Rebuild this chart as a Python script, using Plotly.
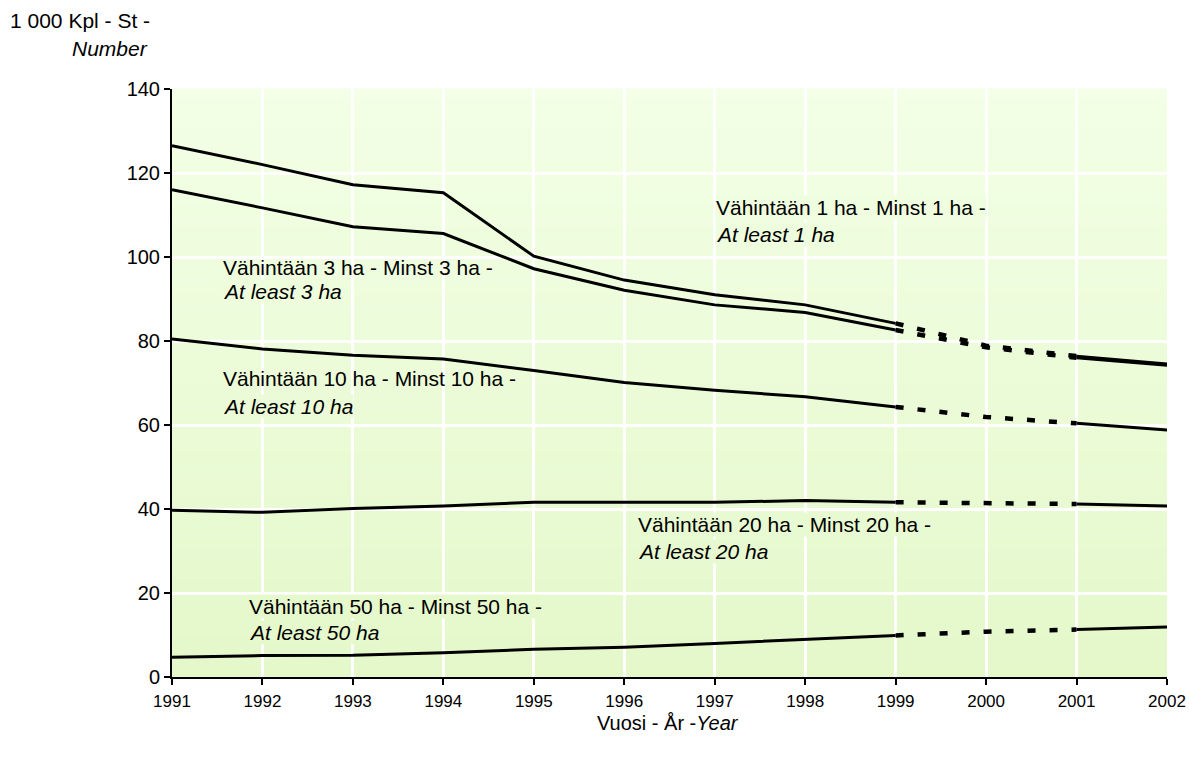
import plotly.graph_objects as go

years = [1991, 1992, 1993, 1994, 1995, 1996, 1997, 1998, 1999, 2000, 2001, 2002]
ha1 = [126.5, 122.0, 117.2, 115.3, 100.2, 94.5, 91.0, 88.6, 84.2, 78.9, 76.4, 74.5]
ha3 = [116.0, 111.7, 107.2, 105.6, 97.2, 92.1, 88.6, 86.8, 82.6, 78.5, 76.0, 74.2]
ha10 = [80.5, 78.1, 76.6, 75.7, 73.0, 70.1, 68.3, 66.7, 64.3, 61.9, 60.4, 58.8]
ha20 = [39.7, 39.2, 40.1, 40.7, 41.6, 41.6, 41.6, 42.0, 41.6, 41.3, 41.2, 40.7]
ha50 = [4.7, 5.1, 5.2, 5.8, 6.6, 7.1, 8.0, 9.0, 9.9, 10.8, 11.3, 11.9]
series = [ha1, ha3, ha10, ha20, ha50]

labels = [
    ("Vähintään 1 ha - Minst 1 ha -", "At least 1 ha", 1997.0, 111.8, 105.4, True),
    ("Vähintään 3 ha - Minst 3 ha -", "At least 3 ha", 1991.55, 97.4, 91.7, False),
    ("Vähintään 10 ha - Minst 10 ha -", "At least 10 ha", 1991.55, 71.1, 64.5, False),
    ("Vähintään 20 ha - Minst 20 ha -", "At least 20 ha", 1996.14, 36.3, 29.9, True),
    ("Vähintään 50 ha - Minst 50 ha -", "At least 50 ha", 1991.84, 16.9, 10.7, True),
]

FONT = "Liberation Sans, Arial, sans-serif"
fig = go.Figure()

i_1999 = years.index(1999)
i_2001 = years.index(2001)
for s in series:
    fig.add_trace(go.Scatter(x=years[:i_1999 + 1], y=s[:i_1999 + 1], mode="lines",
                             line=dict(color="black", width=3), showlegend=False, hoverinfo="skip"))
    fig.add_trace(go.Scatter(x=years[i_1999:i_2001 + 1], y=s[i_1999:i_2001 + 1], mode="lines",
                             line=dict(color="black", width=4.5, dash="8px,14px"), showlegend=False,
                             hoverinfo="skip"))
    fig.add_trace(go.Scatter(x=years[i_2001:], y=s[i_2001:], mode="lines",
                             line=dict(color="black", width=3), showlegend=False, hoverinfo="skip"))

# gradient background
top = (243, 255, 230)
bot = (228, 248, 202)
n = 60
shapes = []
for k in range(n):
    t = (k + 0.5) / n
    c = tuple(round(top[j] + (bot[j] - top[j]) * t) for j in range(3))
    shapes.append(dict(type="rect", xref="x domain", yref="y domain",
                       x0=0, x1=1, y0=1 - (k + 1) / n, y1=1 - k / n + 0.001,
                       fillcolor="rgb(%d,%d,%d)" % c, line=dict(width=0), layer="below"))


def bg_at(yval):
    t = 1 - yval / 140
    c = tuple(round(top[j] + (bot[j] - top[j]) * t) for j in range(3))
    return "rgb(%d,%d,%d)" % c


annotations = []
for l1, l2, xa, y1, y2, bg1 in labels:
    annotations.append(dict(x=xa, y=y1, xref="x", yref="y", text=l1, showarrow=False,
                            xanchor="left", yanchor="middle",
                            bgcolor=bg_at(y1) if bg1 else "rgba(0,0,0,0)", borderpad=0,
                            font=dict(family=FONT, size=21, color="black")))
    annotations.append(dict(x=xa, y=y2, xref="x", yref="y", text="<i>" + l2 + "</i>", showarrow=False,
                            xanchor="left", yanchor="middle", bgcolor=bg_at(y2), borderpad=0,
                            font=dict(family=FONT, size=21, color="black")))

annotations.append(dict(x=-0.0201, y=1.117, xref="paper", yref="paper", text="1 000 Kpl - St -",
                        showarrow=False, xanchor="right", yanchor="middle",
                        font=dict(family=FONT, size=21, color="black")))
annotations.append(dict(x=-0.0221, y=1.069, xref="paper", yref="paper", text="<i>Number</i>",
                        showarrow=False, xanchor="right", yanchor="middle",
                        font=dict(family=FONT, size=21, color="black")))
annotations.append(dict(x=0.4985, y=-0.0785, xref="paper", yref="paper", text="Vuosi - År -<i>Year</i>",
                        showarrow=False, xanchor="center", yanchor="middle",
                        font=dict(family=FONT, size=20, color="black")))

fig.update_layout(
    width=1189, height=758,
    margin=dict(l=172, r=22, t=89, b=81),
    paper_bgcolor="white", plot_bgcolor="rgb(236,252,218)",
    shapes=shapes, annotations=annotations,
    font=dict(family=FONT, size=20, color="black"),
    xaxis=dict(range=[1991, 2002], tickmode="array", tickvals=years, ticktext=[str(y) for y in years],
               showgrid=True, gridcolor="white", gridwidth=2.5, zeroline=False, automargin=False,
               showline=True, linecolor="black", linewidth=2, ticks="outside", ticklen=6,
               tickcolor="black", tickwidth=1.5, tickfont=dict(size=17, color="black"),
               ticklabeloverflow="allow", ticklabelstandoff=2),
    yaxis=dict(range=[0, 140], tickmode="array", tickvals=list(range(0, 141, 20)),
               showgrid=True, gridcolor="white", gridwidth=2.5, zeroline=False, automargin=False,
               showline=True, linecolor="black", linewidth=2, ticks="outside", ticklen=6,
               tickcolor="black", tickwidth=1.5, tickfont=dict(size=20, color="black")),
)

fig.write_html("out.html", config={"displayModeBar": False},
               post_script="document.body.style.margin='0';document.body.style.overflow='hidden';")
